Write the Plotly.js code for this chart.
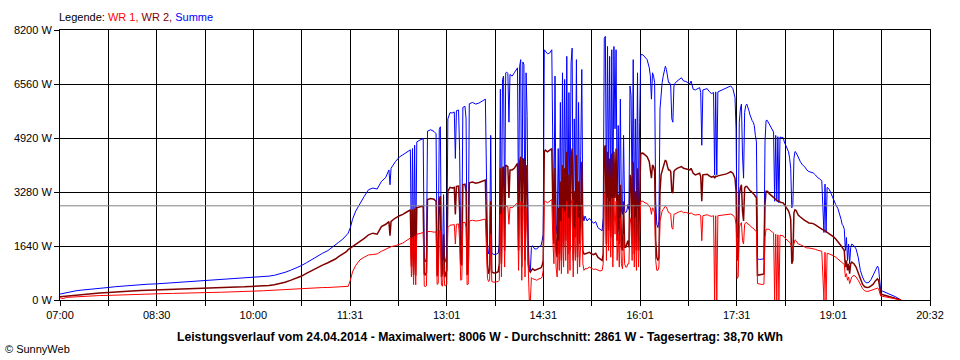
<!DOCTYPE html>
<html><head><meta charset="utf-8">
<script src="https://cdn.plot.ly/plotly-3.0.1.min.js"></script>
<style>html,body{margin:0;padding:0;background:#fff}#chart{width:960px;height:360px}</style>
</head><body><div id="chart"></div>
<script>
// ---- data (time of day, WR 1, WR 2, Summe in W) ----
const times = [
 '07:00','07:03','07:06','07:10','07:15','07:20','07:25','07:30','07:37','07:45','07:52',
 '08:00','08:07','08:15','08:22','08:30','08:37','08:45','08:52',
 '09:00','09:07','09:15','09:22','09:30','09:37','09:45','09:52',
 '10:00','10:05','10:10','10:15','10:20','10:25','10:30','10:35','10:40','10:45','10:50','10:55',
 '11:00','11:05','11:10','11:14','11:17','11:20','11:24','11:27','11:29','11:31','11:33','11:36','11:40','11:44','11:48','11:52','11:56',
 '12:00','12:04','12:07','12:08','12:09','12:13','12:17','12:20','12:24','12:27',
 '12:28','12:29','12:30','12:31','12:32','12:33','12:36','12:39','12:40','12:41','12:42','12:43','12:46','12:49','12:51','12:52','12:53','12:54','12:55','12:56','12:57','12:58','12:59',
 '13:00','13:01','13:02','13:04','13:06','13:08','13:09','13:10','13:12','13:13','13:14','13:15','13:16','13:18','13:19','13:20','13:21','13:22','13:25','13:28','13:31','13:34','13:37','13:39','13:40','13:41','13:42','13:43','13:45','13:47','13:49','13:50','13:51','13:52','13:53','13:54','13:55','13:56','13:57','13:58','13:59',
 '14:00','14:02','14:04','14:06','14:07','14:08','14:09','14:10','14:11','14:12','14:13','14:14','14:15','14:16','14:17','14:18','14:19','14:20','14:21','14:23','14:25','14:27','14:29','14:30','14:31',
 '14:32','14:33','14:35','14:37','14:38','14:39','14:40','14:41','14:42','14:43','14:44','14:45','14:46','14:47','14:48','14:49','14:50','14:51','14:52','14:53','14:54','14:55','14:56','14:57','14:58','14:59',
 '15:00','15:01','15:02','15:03','15:04','15:05','15:06','15:07','15:08','15:09','15:10','15:12','15:14','15:16','15:18','15:20','15:22','15:24','15:26','15:27','15:28','15:29','15:30','15:31','15:32','15:33','15:34','15:35','15:36','15:37','15:38','15:39','15:40','15:41','15:42','15:43','15:44','15:45','15:46','15:47','15:48','15:49','15:50','15:51','15:52','15:53','15:54',
 '15:55','15:56','15:57','15:58','15:59','16:00','16:01','16:02','16:04','16:06','16:08','16:10','16:11','16:12','16:13','16:14','16:15','16:16','16:17','16:18','16:19','16:20','16:21','16:22','16:23','16:24','16:25','16:26','16:27','16:28','16:29','16:30','16:31','16:32','16:33','16:34','16:36','16:38','16:40','16:42','16:44','16:46','16:48','16:49','16:51','16:53','16:55','16:57','16:58','16:59',
 '17:00','17:02','17:04','17:06','17:08','17:10','17:11','17:12','17:13','17:14','17:16','17:18','17:20','17:22','17:24','17:26','17:28','17:30','17:31','17:32','17:33','17:34','17:35','17:36','17:37','17:38','17:39','17:40','17:41','17:42','17:43','17:44','17:45','17:46','17:47','17:48','17:49','17:50','17:51','17:53','17:55','17:57','17:58','17:59',
 '18:00','18:01','18:02','18:03','18:04','18:05','18:06','18:07','18:08','18:09','18:10','18:11','18:12','18:13','18:15','18:16','18:18','18:20','18:21','18:22','18:23','18:24','18:25','18:26','18:27','18:28','18:29','18:31','18:33','18:35','18:37','18:39','18:41','18:43','18:45','18:47','18:49','18:51','18:53','18:54','18:55','18:56','18:58',
 '19:00','19:02','19:04','19:06','19:08','19:09','19:10','19:11','19:12','19:13','19:14','19:15','19:16','19:17','19:18','19:19','19:21','19:23','19:25','19:27','19:29','19:31','19:33','19:35','19:37','19:39','19:41','19:43','19:44','19:45','19:46','19:48','19:50','19:52','19:54','19:56','19:58','20:00','20:02','20:04','20:05'
];
const wr1 = [
 70,40,80,90,100,115,120,125,135,140,150,
 160,170,180,185,190,195,200,210,
 215,220,225,230,235,240,250,260,
 270,275,280,290,300,310,325,335,345,355,365,370,
 375,378,380,383,385,390,400,405,415,600,850,1050,1220,1300,1370,1380,1400,
 1480,1540,1600,1600,1620,1650,1700,1730,1820,1880,
 700,1900,470,1950,460,2000,2020,2050,420,410,430,2080,2080,2060,2070,470,500,2100,2110,450,420,1200,440,
 430,480,2200,2270,2280,2290,1700,2300,2310,1800,600,620,2350,2360,2200,460,480,2400,2420,2400,2410,2440,2460,650,560,600,2000,560,540,550,560,600,2600,700,2700,2800,1000,2850,2850,2830,2300,
 2820,2800,2850,2900,2950,900,2950,2980,600,2950,2900,700,2800,2000,600,0,0,680,650,620,600,640,660,700,900,
 3000,3000,2950,3000,3020,3050,1800,1100,2900,1000,700,1800,900,2400,800,2800,1000,2700,1200,3000,800,2500,900,2900,3050,700,
 2200,1200,2900,800,2500,1000,1700,2900,1100,900,950,950,1000,960,930,940,900,880,900,1100,3200,3250,1200,3100,1500,3000,1300,3100,1000,3100,2000,3000,1200,2000,1000,2500,1100,950,2000,1100,1000,1000,1100,1100,2500,2300,1200,
 2900,1000,2500,900,2800,1000,2000,3000,3000,2950,2930,2850,2800,2600,2800,2750,2650,1200,900,900,1000,2400,2600,2700,2750,2800,2850,2820,2700,2650,2650,2600,2200,2150,2600,2620,2650,2680,2700,2650,2660,2640,2620,2650,2600,2580,2590,2600,2550,1800,
 2560,2570,2590,2560,2540,2560,0,2560,0,2560,2570,2560,2580,2590,2600,2610,2580,2500,2300,650,700,2200,2300,2350,1800,1700,2300,2350,2350,2300,2300,2250,2220,2200,2180,2150,2100,2100,500,480,470,480,1900,2150,
 2160,2150,2140,2100,2080,2060,2040,0,2000,0,1980,0,1970,1960,1950,1900,1850,1800,1750,1700,1600,1580,1750,1830,1800,1750,1700,1680,1650,1620,1580,1580,1570,1560,1540,1510,1500,1480,0,1450,0,1420,1400,
 1380,1340,1300,1250,1200,1170,1150,1120,1080,700,800,600,700,500,650,700,750,700,600,450,350,280,260,270,290,310,340,360,340,260,120,110,100,85,70,60,50,35,20,5,0
];
const wr2 = [
 100,110,125,140,155,170,185,195,210,225,245,
 260,270,285,295,305,315,325,335,
 345,355,365,370,380,385,395,400,
 410,415,425,440,460,495,540,595,650,720,810,900,
 990,1060,1130,1190,1245,1320,1400,1460,1530,1580,1630,1680,1780,1870,1980,2030,2000,
 2230,2300,2380,1950,2390,2490,2560,2600,2680,2740,
 1020,2750,760,2780,740,2800,2830,2850,800,750,850,3050,3080,3060,3000,720,1100,3080,3150,700,800,2000,690,
 780,900,3300,3420,3400,3420,2600,3450,3460,2700,1100,1050,3500,3520,3300,760,900,3560,3580,3550,3570,3600,3640,1050,800,900,3000,850,820,830,860,1100,4000,1100,4000,4050,1500,4100,4080,4050,3100,
 3950,3950,4000,4100,4150,1500,4200,4350,1000,4300,4250,1200,4100,3500,1100,900,850,900,950,900,920,960,980,1050,1200,
 4500,4550,4500,4550,4580,4600,2800,1700,4000,1500,1300,2800,1400,3600,1200,4100,1600,4000,1800,4500,1400,3800,1500,4300,4600,1200,
 3300,1900,4400,1300,3600,1700,2700,4200,1500,1400,1400,1420,1450,1400,1380,1420,1300,1250,1200,1400,4600,4700,1700,4500,2100,4300,1900,4450,1600,4500,3100,4600,1800,3200,1700,3500,1600,1500,3000,1600,1600,1700,1800,1600,3800,3700,1700,
 4200,1400,3300,1500,4000,1500,3000,4450,4460,4400,4350,4200,4000,3700,4100,4050,3900,1800,1300,1200,1300,3300,3800,3950,4050,4150,4250,4200,4050,3950,3950,3900,3300,3250,3900,3950,4000,4030,4050,4000,3980,3960,3950,4000,3850,3800,3830,3850,3750,3000,
 3800,3810,3820,3770,3730,3760,3700,3760,3750,3770,3780,3790,3810,3830,3860,3900,3850,3700,3300,1200,1300,3200,3400,3500,2700,2400,3400,3450,3450,3400,3380,3320,3300,3270,3250,3200,3150,3100,750,760,780,790,2900,3300,
 3300,3280,3230,3200,3180,3150,3120,3080,3050,3020,3000,3000,2970,2960,2950,2900,2800,2700,2600,2450,1100,1200,2650,2740,2720,2650,2580,2520,2460,2420,2380,2340,2330,2320,2280,2230,2200,2150,2120,2100,2080,2060,2020,
 1980,1920,1850,1780,1700,1650,1600,1560,1500,1000,1200,900,1100,800,1100,1150,1100,1000,850,650,480,400,380,390,430,480,580,640,600,420,180,160,140,125,110,95,80,55,30,10,0
];
const summe = [
 180,200,230,250,280,300,320,335,355,380,405,
 430,445,465,480,490,505,520,540,
 560,570,585,595,610,625,645,665,
 680,690,705,725,750,790,840,900,960,1040,1130,1230,
 1330,1420,1500,1590,1680,1750,1850,1950,2030,2200,2450,2700,2940,3150,3350,3400,3370,
 3600,3720,3950,3500,4000,4200,4350,4410,4500,4560,
 1250,4600,1230,4700,1200,4800,4860,4900,1220,1160,1280,5130,5170,5120,5050,1190,1600,5180,5260,1150,1220,3200,1130,
 1210,1380,5500,5690,5680,5710,4300,5750,5770,4500,1700,1670,5850,5880,5500,1220,1380,5960,6000,5950,5980,6040,6100,1700,1400,1500,5000,1420,1380,1390,1420,1700,6400,1800,6700,6800,2500,6900,6920,6880,5400,
 6850,6800,6900,7000,7050,2500,7100,7300,1500,7230,7150,1700,6900,5600,1800,950,900,1600,1650,1550,1550,1620,1650,1800,2000,
 7600,7560,7480,7500,7550,7600,4500,2600,6800,2300,2000,4600,2300,6000,2100,6900,2600,6700,3000,7400,2200,6300,2400,7200,7650,1900,
 5500,3100,7300,2100,6000,2700,4400,7000,2600,2400,2550,2400,2480,2400,2330,2380,2200,2150,2100,2500,7950,8006,2900,7700,3600,7400,3200,7600,2600,7700,5200,7600,3000,5300,2700,6100,2700,2600,5000,2700,2650,2700,2900,2750,6500,6200,2900,
 7300,2500,5500,2700,6900,2600,5400,7450,7450,7380,7300,7050,6800,6100,6900,6800,6600,3000,2300,2200,2400,5800,6400,6600,6800,6950,7100,7000,6750,6600,6600,6500,5500,5400,6500,6580,6650,6700,6750,6650,6640,6600,6570,6650,6400,6380,6420,6450,6300,4700,
 6380,6400,6420,6330,6270,6300,3800,6320,3800,6320,6350,6380,6390,6420,6470,6500,6420,6150,5200,1900,2000,5400,5800,5950,4400,3700,5700,5900,5950,5800,5750,5620,5500,5450,5400,5300,5000,4800,1250,1230,1240,1250,4800,5450,
 5460,5400,5300,5250,5200,5150,5100,3000,5000,3000,4960,2950,4950,4940,4930,4800,4650,4500,4300,4000,2800,2900,4300,4510,4480,4400,4300,4200,4100,4050,3950,3900,3880,3860,3800,3720,3680,3620,2050,3520,2050,3420,3360,
 3200,3020,2900,2780,2600,2450,2300,2250,2150,1500,1900,1200,1700,1100,1600,1700,1650,1550,1300,900,700,560,520,540,620,760,920,1030,960,680,280,265,240,210,185,160,130,95,55,20,0
];
const xTickLabels = ['07:00','08:30','10:00','11:31','13:01','14:31','16:01','17:31','19:01','20:32'];
const yMax = 8200;
const yStep = 1640;
const average = 2861;
const footerText = 'Leistungsverlauf vom 24.04.2014 - Maximalwert: 8006 W - Durchschnitt: 2861 W - Tagesertrag: 38,70 kWh';
const copyrightText = '© SunnyWeb';

// ---- build ----
const FONT = 'Liberation Sans, Arial, Helvetica, sans-serif';
function toMin(t){ const p = t.split(':').map(Number); return p[0]*60 + p[1]; }
const t0 = toMin(xTickLabels[0]);
const span = toMin(xTickLabels[xTickLabels.length-1]) - t0;
const x = times.map(t => toMin(t) - t0);
const nInt = (xTickLabels.length - 1) * 2;
const tickvals = [], ticktext = [];
for (let i = 0; i <= nInt; i++) {
  tickvals.push(span * i / nInt);
  ticktext.push(i % 2 === 0 ? xTickLabels[i/2] : '');
}
function tr(name, y, color, width) {
  return {type:'scatter', mode:'lines', name:name, x:x, y:y,
          line:{color:color, width:width, shape:'linear'}, hoverinfo:'skip'};
}
const data = [
  tr('Summe', summe, '#0000ff', 1),
  tr('WR 2', wr2, '#800000', 1.5),
  tr('WR 1', wr1, '#ff0000', 1)
];
const axisCommon = {
  showgrid:true, gridcolor:'#000000', gridwidth:1,
  showline:true, mirror:true, linecolor:'#000000', linewidth:1,
  zeroline:false, ticks:'outside', ticklen:5, tickcolor:'#000000', tickwidth:1,
  tickfont:{family:FONT, size:11, color:'#000000'}, fixedrange:true
};
const layout = {
  width:960, height:360,
  margin:{l:60, r:30, t:30, b:60, pad:0},
  paper_bgcolor:'#ffffff', plot_bgcolor:'#ffffff',
  showlegend:false,
  font:{family:FONT, size:11, color:'#000000'},
  xaxis:Object.assign({}, axisCommon, {range:[0, span], tickmode:'array', tickvals:tickvals, ticktext:ticktext}),
  yaxis:Object.assign({}, axisCommon, {range:[0, yMax], tick0:0, dtick:yStep, ticksuffix:' W'}),
  shapes:[{type:'line', xref:'paper', x0:0, x1:1, yref:'y', y0:average, y1:average,
           line:{color:'#808080', width:1}, layer:'above'}],
  annotations:[
    {xref:'paper', yref:'paper', x:-0.003, y:1.048, xanchor:'left', yanchor:'middle', showarrow:false,
     font:{family:FONT, size:11, color:'#000000'},
     text:'Legende: <span style="color:#ff0000">WR 1, </span><span style="color:#800000">WR 2, </span><span style="color:#0000ff">Summe</span>'},
    {xref:'paper', yref:'paper', x:0.4828, y:-0.137, xanchor:'center', yanchor:'middle', showarrow:false,
     font:{family:FONT, size:12.2, color:'#000000'}, text:'<b>' + footerText + '</b>'},
    {xref:'paper', yref:'paper', x:-0.066, y:-0.183, xanchor:'left', yanchor:'middle', showarrow:false,
     font:{family:FONT, size:11, color:'#000000'}, text:copyrightText}
  ]
};
Plotly.newPlot('chart', data, layout, {displayModeBar:false, staticPlot:true});
</script>
</body></html>
